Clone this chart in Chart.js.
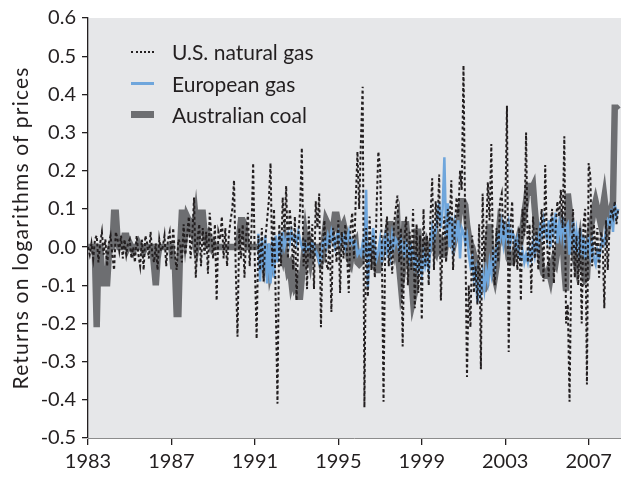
<!DOCTYPE html>
<html>
<head>
<meta charset="utf-8">
<script src="https://cdn.jsdelivr.net/npm/chart.js@4/dist/chart.umd.min.js"></script>
<style>
  html, body { margin: 0; padding: 0; background: #ffffff; }
  #wrap { position: relative; width: 621px; height: 478px; overflow: hidden; }
  canvas { display: block; }
  .legend { position: absolute; left: 130px; top: 36px; font-family: Lato, "Noto Sans", sans-serif; font-size: 21px; color: #231f20; }
  .item { position: relative; height: 31.5px; line-height: 31.5px; white-space: nowrap; }
  .item span.t { position: absolute; left: 42px; top: 0; }
  .item span.s { position: absolute; left: 1px; width: 23px; top: 50%; }
  .s.us { border-top: 2px dotted #231f20; margin-top: -1px; }
  .s.eu { border-top: 3px solid #6fa6dc; margin-top: -1.5px; }
  .s.au { border-top: 7px solid #6d6e71; margin-top: -3.5px; }
  .ytitle { position: absolute; left: -145px; top: 215.5px; width: 330px; height: 24px; line-height: 24px; text-align: center;
            font-family: Lato, "Noto Sans", sans-serif; font-size: 21px; letter-spacing: 1.2px; color: #231f20;
            transform: rotate(-90deg); transform-origin: 50% 50%; white-space: nowrap; }
</style>
</head>
<body>
<div id="wrap">
  <canvas id="c" width="621" height="478"></canvas>
  <div class="ytitle">Returns on logarithms of prices</div>
  <div class="legend">
    <div class="item"><span class="s us"></span><span class="t">U.S. natural gas</span></div>
    <div class="item"><span class="s eu"></span><span class="t">European gas</span></div>
    <div class="item"><span class="s au"></span><span class="t">Australian coal</span></div>
  </div>
</div>
<script>
// Monthly returns on logarithms of prices, January 1983 onward
const startYear = 1983;
const seriesNames = ["U.S. natural gas", "European gas", "Australian coal"];
const xTickYears = [1983, 1987, 1991, 1995, 1999, 2003, 2007];
const yTicks = [-0.5, -0.4, -0.3, -0.2, -0.1, 0.0, 0.1, 0.2, 0.3, 0.4, 0.5, 0.6];

const usGas = [
  0, -0.02, 0.01, -0.03, 0.02, 0.03, -0.04, 0.01, 0.04, -0.02, 0.02, -0.05,
  0.01, 0.03, -0.02, -0.06, 0.04, 0.02, -0.01, 0.03, -0.03, 0.02, -0.02, 0.01,
  0.02, -0.03, 0.0, -0.04, 0.03, -0.02, -0.05, 0.02, -0.06, 0.03, 0.01, -0.03,
  0.04, -0.02, -0.04, 0.01, -0.06, 0.02, -0.01, 0.0, 0.03, -0.05, 0.02, 0.04,
  -0.03, 0.05, -0.02, -0.06, 0.02, 0.01, -0.04, 0.06, -0.02, 0.03, 0.08, -0.03,
  0.03, 0.13, -0.08, 0.02, 0.06, -0.05, 0.05, -0.02, 0.04, -0.07, 0.09, 0.03,
  -0.03, 0.06, -0.14, 0.04, 0.02, 0.08, -0.03, 0.05, -0.05, 0.03, 0.07, 0.1,
  0.175, -0.06, -0.235, 0.05, -0.03, 0.06, -0.08, 0.03, 0.09, -0.05, 0.04, 0.22,
  -0.05, -0.24, 0.03, -0.06, 0.05, -0.09, 0.02, 0.07, 0.12, 0.22, -0.05, 0.1,
  -0.15, -0.41, 0.06, -0.05, 0.13, 0.04, 0.16, -0.03, 0.1, 0.05, -0.06, 0.08,
  -0.14, 0.03, 0.1, 0.26, -0.05, 0.02, -0.11, 0.08, -0.03, 0.06, -0.11, 0.12,
  0.05, 0.14, -0.21, 0.0, 0.07, -0.04, -0.06, 0.03, -0.17, 0.05, 0.02, -0.04,
  0.07, -0.12, 0.04, -0.03, 0.06, -0.02, -0.12, 0.05, 0.09, -0.03, 0.12, 0.25,
  0.1, 0.28, 0.42, -0.42, 0.05, -0.13, 0.08, -0.06, 0.03, -0.08, 0.1, 0.25,
  0.21, 0.0, -0.405, 0.03, 0.08, -0.05, 0.02, -0.07, 0.06, 0.1, 0.135, -0.04,
  0.05, -0.26, 0.02, 0.08, -0.1, 0.04, -0.06, 0.1, -0.16, 0.06, -0.12, 0.03,
  -0.19, 0.1, -0.05, 0.03, -0.1, 0.08, 0.18, -0.06, 0.12, 0.05, 0.19, -0.14,
  0.02, 0.08, -0.04, 0.1, 0.06, 0.175, -0.06, 0.05, 0.13, 0.08, 0.2, 0.15,
  0.476, 0.05, -0.34, -0.1, -0.21, 0.03, -0.12, -0.05, -0.15, 0.06, -0.32, 0.14,
  -0.04, 0.03, 0.17, 0.07, 0.27, -0.04, -0.1, 0.05, -0.04, 0.12, 0.14, 0.03,
  0.08, 0.37, -0.275, 0.06, 0.12, -0.05, 0.02, -0.06, 0.05, -0.14, 0.1, 0.03,
  0.3, -0.04, 0.06, -0.12, 0.08, -0.03, 0.05, -0.06, 0.04, 0.1, -0.09, 0.215,
  0.02, -0.08, 0.06, 0.1, -0.095, 0.05, 0.12, 0.08, 0.15, 0.05, 0.29, -0.2,
  -0.15, -0.405, -0.05, 0.1, -0.08, 0.03, -0.1, 0.05, -0.2, 0.06, 0.1, -0.36,
  0.22, 0.185, -0.05, 0.06, -0.02, 0.05, -0.08, 0.04, 0.02, -0.16, 0.07, -0.06,
  0.05, 0.1, 0.08, 0.12, 0.06, 0.1
];

// European gas starts in March 1991
const euStartYear = 1991;
const euStartMonth = 3;
const euGas = [
  0.035, -0.09, 0.02, -0.06, 0.03, -0.095, 0.01, -0.095, 0.02, -0.08,
  0.03, -0.04, 0.035, -0.02, 0.04, 0.0, 0.02, 0.035, 0.01, 0.04, 0.02, 0.03,
  0.01, 0.04, 0.02, 0.0, -0.01, 0.01, -0.005, 0.0, -0.01, 0.01, 0.0, -0.01,
  -0.02, -0.04, -0.03, 0.01, 0.02, 0.0, 0.03, 0.01, 0.04, 0.02, 0.0, 0.03,
  0.04, 0.01, 0.02, 0.03, 0.0, 0.02, 0.04, 0.01, 0.02, 0.0, 0.01, -0.02,
  -0.01, -0.02, 0.01, -0.01, 0.15, -0.105, 0.0, -0.01, 0.05, 0.0, -0.03, -0.01,
  0.02, -0.04, 0.01, 0.03, -0.01, 0.02, -0.02, 0.03, 0.0, 0.02, 0.01, -0.01,
  0.02, 0.0, -0.02, 0.01, 0.0, -0.03, 0.0, -0.02, -0.05, -0.03, -0.06, -0.04,
  -0.07, -0.02, -0.05, -0.03, -0.06, 0.0, 0.05, 0.02, 0.04, 0.08, 0.115, 0.05,
  0.1, 0.235, 0.03, 0.115, 0.0, 0.08, -0.02, 0.06, 0.03, 0.07, -0.03, 0.05,
  0.04, 0.01, 0.03, -0.02, -0.05, -0.03, -0.08, -0.06, -0.145, -0.1, -0.12, -0.07,
  -0.11, -0.06, -0.09, -0.04, -0.07, -0.02, -0.05, 0.0, 0.03, 0.02, 0.06, 0.01,
  0.05, 0.02, 0.06, 0.01, 0.04, 0.03, 0.0, 0.02, -0.02, -0.03, -0.01, -0.04,
  -0.02, -0.04, -0.01, -0.03, 0.01, -0.02, 0.02, 0.0, 0.05, 0.03, 0.07, 0.04,
  0.02, 0.07, 0.0, 0.08, 0.04, 0.09, 0.01, 0.06, 0.03, 0.08, 0.02, 0.05,
  0.06, -0.02, 0.03, 0.07, -0.01, 0.04, 0.0, 0.05, -0.02, 0.03, -0.03, 0.01,
  0.02, -0.02, 0.01, -0.03, -0.045, -0.01, -0.03, 0.0, 0.02, 0.01, 0.05, 0.07,
  0.06, 0.1, 0.04, 0.115, 0.08, 0.1
];

const auCoal = [
  0, 0, 0, 0, -0.02, -0.21, 0, 0, -0.06, -0.095, -0.095, -0.095,
  -0.02, 0, 0, 0.09, 0.09, 0.02, 0, 0, 0, 0.03, 0.03, 0,
  0.01, 0, -0.01, 0, 0, 0.01, 0, 0, -0.01, 0, 0, 0,
  0, 0, -0.05, -0.1, -0.03, 0, 0, 0, 0, 0, 0, 0,
  0, -0.05, -0.05, -0.175, -0.175, 0, 0.09, 0.09, 0.04, 0.08, 0.07, 0.05,
  0.06, 0.03, 0.07, 0.02, 0.05, 0.09, 0.09, 0.04, 0.02, 0.03, 0.01, 0,
  0.01, 0, 0, 0, 0, 0, 0, 0, 0, 0, 0, 0,
  0, 0, 0, 0.03, 0.07, 0.07, 0.06, 0.01, 0, 0, 0, 0,
  0, 0, 0, 0, -0.03, -0.05, -0.02, 0, 0, -0.06, -0.04, 0,
  0, 0, 0, 0, -0.02, 0.01, -0.03, -0.06, -0.05, -0.09, -0.07, -0.1,
  -0.09, -0.13, -0.13, -0.08, -0.03, 0.02, -0.02, 0, -0.03, 0, -0.01, 0,
  0, -0.02, -0.04, -0.03, 0.03, 0.07, 0.06, 0.02, 0.03, 0.05, 0.085, 0.085,
  0.06, 0.02, 0.05, 0.06, 0.04, 0.02, -0.03, -0.04, -0.01, 0, 0.01, -0.04,
  -0.045, -0.04, -0.02, 0, 0.01, 0, -0.01, 0, -0.02, -0.05, -0.06, -0.06,
  -0.04, -0.02, 0, 0.02, 0.03, 0.06, 0.06, 0.02, 0, 0.04, 0.06, -0.05,
  -0.1, -0.07, 0.06, 0.06, 0.01, -0.05, -0.08, -0.14, -0.12, 0.04, 0.04, -0.02,
  -0.03, 0, 0.01, -0.02, -0.01, 0, 0.02, 0, -0.01, 0.02, 0, 0.01,
  -0.02, -0.02, 0.01, 0.03, 0.02, 0.04, 0.05, 0.02, 0.04, 0.06, 0.1, 0.12,
  0.12, 0.11, 0.06, 0.03, 0.01, 0, -0.02, -0.04, -0.06, -0.08, -0.1, -0.11,
  -0.11, -0.1, 0.02, 0.06, -0.03, -0.06, -0.08, -0.05, 0.02, 0.07, 0.06, 0.03,
  0.04, 0.01, -0.03, -0.04, -0.04, -0.02, 0, 0.01, 0.03, 0.02, 0.05, 0.09,
  0.12, 0.16, 0.16, 0.15, 0.16, 0.1, 0.05, 0.02, -0.02, -0.05, -0.07, -0.075,
  -0.075, -0.06, -0.08, -0.05, -0.03, -0.04, -0.01, 0.02, 0.05, 0.02, -0.06, -0.115,
  0.14, 0.1, 0.06, 0.02, -0.03, -0.05, -0.02, 0.01, -0.03, -0.06, -0.085, -0.08,
  0.01, 0.05, 0.07, 0.1, 0.12, 0.1, 0.08, 0.06, 0.1, 0.13, 0.09, 0.05,
  0.07, 0.1, 0.12, 0.365, 0.365, 0.36
];

function toPoints(values, year, month) {
  const base = year + (month - 1) / 12;
  return values.map((v, i) => ({ x: base + i / 12, y: v }));
}

const FONT = 'Lato, "Noto Sans", sans-serif';
const INK = '#231f20';

const bgPlugin = {
  id: 'plotBg',
  beforeDraw(chart) {
    const a = chart.chartArea, ctx = chart.ctx;
    ctx.save();
    ctx.fillStyle = '#e6e7e9';
    ctx.fillRect(a.left, a.top, a.right - a.left, a.bottom - a.top);
    ctx.restore();
  }
};

new Chart(document.getElementById('c'), {
  type: 'line',
  data: {
    datasets: [
      { label: seriesNames[0], data: toPoints(usGas, startYear, 1), borderColor: INK, borderWidth: 2, borderDash: [3, 2.5], pointRadius: 0, tension: 0, order: 1 },
      { label: seriesNames[1], data: toPoints(euGas, euStartYear, euStartMonth), borderColor: '#6fa6dc', borderWidth: 2.5, pointRadius: 0, tension: 0, order: 2 },
      { label: seriesNames[2], data: toPoints(auCoal, startYear, 1), borderColor: '#6d6e71', borderWidth: 6.5, pointRadius: 0, tension: 0, order: 3 }
    ]
  },
  options: {
    responsive: false,
    animation: false,
    devicePixelRatio: 1,
    layout: { padding: { top: 18, right: 0, left: 0, bottom: 0 } },
    plugins: { legend: { display: false }, tooltip: { enabled: false } },
    scales: {
      x: {
        type: 'linear',
        min: 1983,
        max: 2008.55,
        afterFit(s) { s.height = 40; },
        afterBuildTicks(s) { s.ticks = xTickYears.map(v => ({ value: v })); },
        ticks: { autoSkip: false, maxRotation: 0, color: INK, font: { family: FONT, size: 20 }, padding: 5, callback: v => String(v) },
        grid: { drawOnChartArea: false, drawTicks: true, tickLength: 7, color: INK, lineWidth: 1.3 },
        border: { display: true, color: '#8c8c8c', width: 1 }
      },
      y: {
        min: -0.5,
        max: 0.6,
        afterFit(s) { s.width = 88; },
        afterBuildTicks(s) { s.ticks = yTicks.map(v => ({ value: v })); },
        ticks: { color: INK, font: { family: FONT, size: 20 }, padding: 6, callback: v => v.toFixed(1) },
        grid: { drawOnChartArea: false, drawTicks: true, tickLength: 6, color: INK, lineWidth: 1.3 },
        border: { display: true, color: INK, width: 1.3 }
      }
    }
  },
  plugins: [bgPlugin]
});
</script>
</body>
</html>
